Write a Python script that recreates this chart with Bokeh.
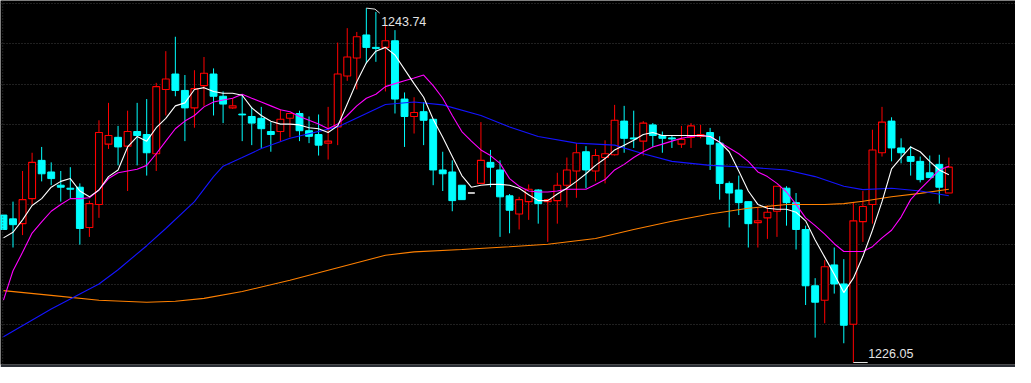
from bokeh.plotting import figure
from bokeh.models import Range1d, Grid, FixedTicker, Span
from bokeh.embed import file_html
from bokeh.resources import INLINE
from bokeh.core.properties import value

# ---- candle data (price) ----
opens = [1233.41, 1233.22, 1232.98, 1234.23, 1236.14, 1235.56, 1234.90, 1234.75, 1234.80, 1232.79,
         1233.94, 1236.95, 1237.29, 1236.85, 1237.58, 1237.43, 1236.47, 1239.68, 1240.45, 1239.63,
         1238.76, 1239.87, 1240.45, 1239.34, 1238.76, 1238.45, 1238.33, 1238.24, 1237.58, 1237.58,
         1238.24, 1238.48, 1237.62, 1237.43, 1237.00, 1237.81, 1240.35, 1241.25, 1242.40, 1241.78,
         1241.78, 1242.11, 1239.20, 1238.33, 1238.57, 1238.19, 1235.66, 1235.56, 1234.90, 1234.51,
         1234.99, 1236.04, 1235.66, 1234.37, 1233.46, 1234.08, 1234.66, 1234.08, 1234.13, 1234.90,
         1235.61, 1236.57, 1235.61, 1236.28, 1236.42, 1238.10, 1237.26, 1237.10, 1237.91, 1237.38,
         1237.26, 1236.95, 1237.29, 1237.33, 1237.53, 1237.00, 1234.99, 1234.66, 1234.08, 1233.03,
         1233.27, 1233.60, 1234.75, 1234.03, 1232.69, 1229.88, 1229.16, 1230.92, 1229.97, 1227.96,
         1233.08, 1233.94, 1236.52, 1238.10, 1236.76, 1236.33, 1236.09, 1235.52, 1235.94, 1234.51]
highs = [1233.41, 1234.08, 1235.61, 1236.52, 1236.81, 1236.04, 1235.61, 1235.80, 1234.99, 1234.13,
         1238.14, 1239.01, 1237.86, 1238.62, 1239.01, 1239.20, 1240.01, 1241.59, 1242.31, 1240.40,
         1240.64, 1241.30, 1240.73, 1239.58, 1239.24, 1239.38, 1238.81, 1238.81, 1238.05, 1238.67,
         1238.48, 1238.62, 1238.33, 1238.43, 1238.81, 1242.02, 1242.74, 1242.55, 1243.74, 1243.55,
         1242.88, 1242.64, 1239.53, 1239.29, 1239.05, 1238.19, 1236.57, 1236.14, 1234.90, 1234.51,
         1238.05, 1236.66, 1236.14, 1234.46, 1234.32, 1234.94, 1234.70, 1234.23, 1235.52, 1236.28,
         1237.00, 1236.85, 1236.71, 1237.14, 1238.91, 1238.86, 1238.62, 1238.10, 1238.00, 1237.58,
         1237.38, 1237.86, 1238.00, 1237.91, 1237.76, 1237.34, 1235.09, 1235.38, 1234.08, 1233.79,
         1233.89, 1234.85, 1234.85, 1234.51, 1232.88, 1230.26, 1231.16, 1231.79, 1231.21, 1234.03,
         1234.61, 1237.67, 1238.81, 1238.29, 1237.24, 1236.85, 1236.33, 1236.38, 1236.42, 1236.28]
lows = [1232.69, 1231.79, 1232.41, 1233.94, 1235.09, 1234.90, 1234.08, 1234.23, 1231.93, 1232.32,
        1233.27, 1236.71, 1235.89, 1234.61, 1235.89, 1235.38, 1235.61, 1238.38, 1239.34, 1237.10,
        1237.77, 1238.86, 1238.38, 1238.00, 1238.71, 1237.10, 1236.90, 1236.76, 1236.57, 1237.10,
        1237.29, 1237.10, 1237.00, 1236.38, 1236.18, 1236.90, 1240.11, 1239.68, 1240.97, 1241.06,
        1239.58, 1238.48, 1236.81, 1237.48, 1236.90, 1234.90, 1234.61, 1233.60, 1234.18, 1234.51,
        1234.99, 1234.80, 1232.32, 1232.50, 1232.69, 1233.17, 1232.98, 1232.07, 1232.98, 1233.79,
        1234.27, 1234.75, 1235.09, 1234.99, 1236.38, 1236.52, 1236.76, 1236.38, 1236.81, 1236.52,
        1236.76, 1236.76, 1236.76, 1237.24, 1235.66, 1234.18, 1232.79, 1233.41, 1231.79, 1231.79,
        1232.22, 1232.32, 1232.88, 1231.69, 1228.92, 1227.29, 1228.01, 1229.49, 1227.01, 1226.05,
        1232.07, 1232.98, 1236.33, 1236.09, 1235.99, 1235.38, 1235.04, 1235.28, 1233.98, 1234.51]
closes = [1232.69, 1232.93, 1234.18, 1236.04, 1235.47, 1235.23, 1234.80, 1234.70, 1232.74, 1233.98,
          1237.53, 1237.38, 1236.81, 1237.58, 1237.38, 1236.52, 1239.82, 1240.20, 1239.63, 1238.76,
          1239.72, 1240.49, 1239.34, 1238.95, 1238.86, 1238.41, 1238.00, 1237.72, 1237.43, 1238.19,
          1238.48, 1237.62, 1237.34, 1236.90, 1237.10, 1240.45, 1241.30, 1242.31, 1241.78, 1241.73,
          1242.11, 1239.20, 1238.33, 1238.53, 1238.14, 1235.66, 1235.47, 1234.13, 1234.18, 1234.51,
          1236.14, 1235.80, 1234.32, 1233.65, 1234.18, 1234.70, 1233.98, 1234.18, 1234.90, 1235.66,
          1236.52, 1235.66, 1236.38, 1236.47, 1238.14, 1237.24, 1237.21, 1238.00, 1237.38, 1237.24,
          1237.21, 1237.19, 1237.86, 1237.43, 1236.95, 1234.99, 1234.51, 1234.03, 1232.98, 1233.12,
          1233.55, 1234.85, 1234.03, 1232.69, 1229.88, 1229.06, 1230.83, 1229.97, 1227.91, 1233.12,
          1233.84, 1236.66, 1238.05, 1236.76, 1236.52, 1236.09, 1235.18, 1235.28, 1234.80, 1235.80]

# ---- moving averages ----
ma_white = [1232.27, 1232.55, 1233.17, 1233.89, 1234.23, 1234.80, 1235.09, 1235.23, 1234.61, 1234.32,
            1234.66, 1235.33, 1235.66, 1236.81, 1237.33, 1237.10, 1237.77, 1238.24, 1238.86, 1239.01,
            1239.68, 1239.77, 1239.58, 1239.49, 1239.49, 1239.39, 1238.76, 1238.38, 1238.09, 1237.95,
            1237.95, 1237.91, 1237.77, 1237.72, 1237.53, 1237.86, 1238.95, 1240.06, 1241.01, 1241.59,
            1241.78, 1241.40, 1240.68, 1239.97, 1239.29, 1238.19, 1237.29, 1236.33, 1235.38, 1234.80,
            1234.90, 1234.94, 1234.94, 1234.90, 1234.75, 1234.42, 1234.13, 1234.13, 1234.46, 1234.75,
            1235.09, 1235.47, 1235.89, 1236.23, 1236.66, 1236.90, 1237.14, 1237.43, 1237.53, 1237.38,
            1237.38, 1237.38, 1237.38, 1237.38, 1237.33, 1237.05, 1236.57, 1235.61, 1234.61, 1233.94,
            1233.75, 1233.70, 1233.70, 1233.55, 1233.12, 1232.17, 1231.31, 1230.45, 1229.54, 1230.26,
            1231.35, 1232.65, 1234.08, 1235.71, 1236.28, 1236.81, 1236.57, 1236.09, 1235.66, 1235.42]
ma_magenta = [1229.16, 1230.63, 1231.55, 1232.51, 1233.07, 1233.60, 1233.94, 1234.23, 1234.23, 1234.27,
              1234.66, 1235.23, 1235.52, 1235.61, 1235.70, 1235.89, 1236.47, 1237.10, 1237.72, 1238.10,
              1238.38, 1238.81, 1239.05, 1239.15, 1239.24, 1239.44, 1239.24, 1239.05, 1238.86, 1238.67,
              1238.57, 1238.33, 1238.14, 1237.95, 1237.72, 1237.95, 1238.38, 1238.86, 1239.24, 1239.44,
              1239.82, 1239.97, 1240.11, 1240.25, 1240.40, 1239.87, 1239.24, 1238.38, 1237.58, 1237.10,
              1236.66, 1236.38, 1235.99, 1235.23, 1234.85, 1234.61, 1234.56, 1234.56, 1234.61, 1234.70,
              1234.70, 1234.70, 1234.94, 1235.18, 1235.66, 1235.94, 1236.28, 1236.57, 1236.81, 1236.95,
              1237.10, 1237.24, 1237.33, 1237.38, 1237.33, 1237.05, 1236.76, 1236.47, 1236.09, 1235.56,
              1235.33, 1234.99, 1234.56, 1233.94, 1233.27, 1232.88, 1232.46, 1231.98, 1231.59, 1231.59,
              1231.59, 1231.83, 1232.27, 1232.65, 1233.31, 1234.18, 1234.70, 1235.18, 1235.66, 1235.85]
blue_idx = [0, 5, 10, 12, 15, 17, 20, 22, 23, 25, 27, 30, 35, 38, 40, 43, 46, 50, 53, 56,
            60, 64, 67, 70, 74, 78, 82, 85, 88, 90, 93, 96, 99]
ma_blue = [1227.34, 1228.72, 1229.97, 1230.68, 1231.88, 1232.74, 1234.08, 1235.33, 1235.85, 1236.28,
           1236.73, 1237.24, 1237.81, 1238.48, 1238.93, 1239.05, 1238.91, 1238.38, 1237.81, 1237.33,
           1237.00, 1236.90, 1236.47, 1236.09, 1235.89, 1235.80, 1235.66, 1235.33, 1234.85, 1234.68,
           1234.75, 1234.61, 1234.37]
orange_idx = [0, 5, 10, 15, 18, 21, 25, 30, 35, 40, 43, 48, 53, 57, 62, 66, 70, 74, 78, 82,
              86, 88, 90, 93, 96, 99]
ma_orange = [1229.64, 1229.40, 1229.16, 1229.06, 1229.11, 1229.25, 1229.59, 1230.16, 1230.78, 1231.40,
             1231.57, 1231.69, 1231.83, 1231.95, 1232.24, 1232.69, 1233.10, 1233.46, 1233.75, 1233.94,
             1233.94, 1233.98, 1234.10, 1234.32, 1234.49, 1234.70]

grid_levels = [1243.95, 1241.95, 1239.95, 1237.95, 1235.95, 1233.95, 1231.95, 1229.95, 1227.95]

RED = "#ff0000"
CYAN = "#00ffff"
BODY_W = 0.72

n = len(opens)
idx = list(range(n))

up_i = [i for i in idx if closes[i] > opens[i]]
dn_i = [i for i in idx if closes[i] < opens[i]]
fl_i = [i for i in idx if closes[i] == opens[i]]

p = figure(width=1015, height=367, output_backend="svg", toolbar_location=None,
           x_range=Range1d(-0.31, 105.98), y_range=Range1d(1225.95, 1244.12),
           x_axis_type=None, y_axis_type=None, title=None,
           background_fill_color="#000000", border_fill_color="#2b2f36",
           min_border=0, min_border_bottom=3, outline_line_color=None)

p.add_layout(Grid(dimension=1, ticker=FixedTicker(ticks=grid_levels),
                  grid_line_color="#404040", grid_line_dash="1 2", grid_line_width=1))
p.add_layout(Span(location=-0.08, dimension="height", line_color="#404040",
                  line_dash="1 2", line_width=1))

# wicks
p.segment(x0=up_i, y0=[highs[i] for i in up_i], x1=up_i, y1=[lows[i] for i in up_i],
          line_color=RED, line_width=1)
p.segment(x0=dn_i, y0=[highs[i] for i in dn_i], x1=dn_i, y1=[lows[i] for i in dn_i],
          line_color=CYAN, line_width=1)

# bodies
p.vbar(x=up_i, width=BODY_W, top=[closes[i] for i in up_i], bottom=[opens[i] for i in up_i],
       fill_color="#000000", line_color=RED, line_width=1.1)
p.vbar(x=dn_i, width=BODY_W, top=[opens[i] for i in dn_i], bottom=[closes[i] for i in dn_i],
       fill_color=CYAN, line_color=CYAN, line_width=1)
p.segment(x0=[i - BODY_W / 2 for i in fl_i], y0=[opens[i] for i in fl_i],
          x1=[i + BODY_W / 2 for i in fl_i], y1=[closes[i] for i in fl_i],
          line_color="#ffffff", line_width=1.5)

# moving averages
p.line(orange_idx, ma_orange, line_color="#ff8000", line_width=1.1)
p.line(blue_idx, ma_blue, line_color="#1414ff", line_width=1.1)
p.line(idx, ma_magenta, line_color="#ff00ff", line_width=1.1)
p.line(idx, ma_white, line_color="#ffffff", line_width=1.1)

# high / low markers
TXT = "#e4e4e4"
hi = max(highs)
hi_i = highs.index(hi)
lo = min(lows)
lo_i = lows.index(lo)
p.line([hi_i, hi_i + 0.9, hi_i + 1.4], [hi, hi - 0.05, hi - 0.25], line_color=TXT, line_width=1)
p.text(x=[hi_i + 1.55], y=[hi], text=[f"{hi:.2f}"], text_baseline="middle", text_align="left",
       y_offset=13, text_font_size="12.5px", text_color=TXT, text_font=value("Liberation Sans"))
p.line([lo_i, lo_i + 1.5], [lo, lo], line_color=TXT, line_width=1)
p.text(x=[lo_i + 1.55], y=[lo], text=[f"{lo:.2f}"], text_baseline="middle", text_align="left",
       y_offset=-9, text_font_size="12.5px", text_color=TXT, text_font=value("Liberation Sans"))

open("out.html", "w").write(file_html(p, INLINE))
